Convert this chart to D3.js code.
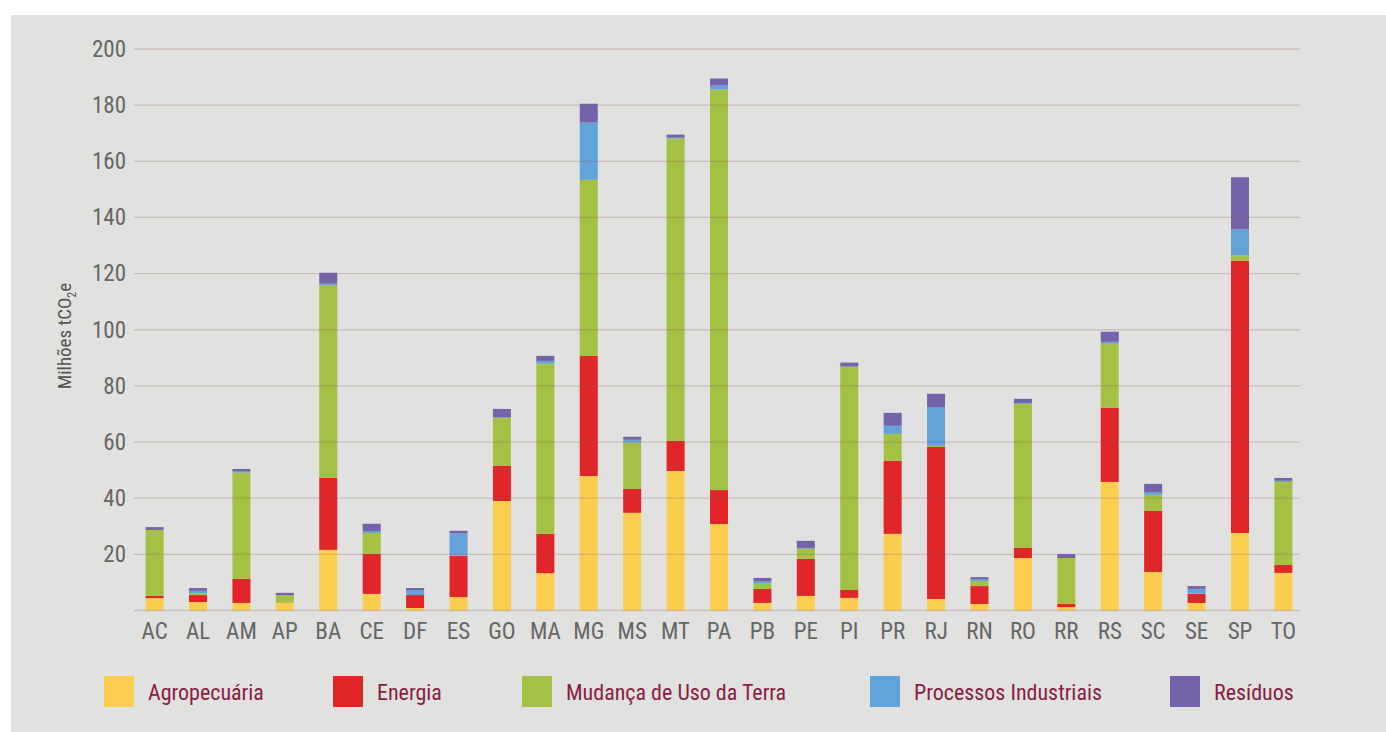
<!DOCTYPE html>
<html>
<head>
<meta charset="utf-8">
<script src="https://cdn.jsdelivr.net/npm/d3@7"></script>
<style>
  html, body { margin: 0; padding: 0; background: #fff; }
  svg { display: block; }
</style>
</head>
<body>
<div id="chart"></div>
<script>
// ---------- Data (milhões tCO2e) ----------
const states = ["AC","AL","AM","AP","BA","CE","DF","ES","GO","MA","MG","MS","MT","PA",
  "PB","PE","PI","PR","RJ","RN","RO","RR","RS","SC","SE","SP","TO"];

const sectors = ["Agropecuária", "Energia", "Mudança de Uso da Terra", "Processos Industriais", "Resíduos"];

const agropecuaria = [4.4, 3.0, 2.7, 2.7, 21.6, 5.9, 0.9, 4.8, 39.0, 13.3, 47.9, 34.8, 49.7, 30.8,
  2.7, 5.2, 4.5, 27.3, 4.1, 2.3, 18.7, 1.2, 45.8, 13.7, 2.7, 27.6, 13.4];
const energia = [0.8, 2.5, 8.6, 0.1, 25.7, 14.3, 4.6, 14.6, 12.5, 14.0, 42.8, 8.5, 10.7, 12.1,
  5.0, 13.2, 2.8, 26.0, 54.2, 6.4, 3.6, 1.1, 26.4, 21.8, 3.2, 97.0, 2.8];
const usoTerra = [23.5, 0.7, 37.8, 2.6, 68.5, 7.4, 0, 0.1, 17.2, 60.6, 62.7, 16.5, 107.7, 142.7,
  2.1, 3.6, 79.5, 9.6, 0.3, 1.8, 51.3, 16.4, 22.8, 5.7, 0.1, 1.9, 29.6];
const processos = [0, 0.8, 0.4, 0, 0.6, 0.7, 1.8, 8.0, 0.1, 1.0, 20.4, 1.0, 0.3, 1.4,
  0.7, 0.3, 0.1, 2.9, 13.9, 0.7, 0.3, 0, 0.7, 1.0, 1.7, 9.3, 0.4];
const residuos = [1.0, 1.0, 0.9, 0.9, 3.9, 2.6, 0.7, 0.9, 3.0, 1.8, 6.7, 1.1, 1.1, 2.5,
  1.1, 2.5, 1.4, 4.6, 4.7, 0.7, 1.5, 1.4, 3.6, 2.9, 1.0, 18.5, 1.0];

const yTicks = [20, 40, 60, 80, 100, 120, 140, 160, 180, 200];
const colors = ["#fdcd4f", "#e02628", "#a4c144", "#62a3d9", "#7462ab"];

// ---------- Build table ----------
const seriesValues = [agropecuaria, energia, usoTerra, processos, residuos];
const table = states.map((s, i) => {
  const row = { state: s };
  sectors.forEach((k, j) => { row[k] = seriesValues[j][i]; });
  return row;
});
const stacked = d3.stack().keys(sectors)(table);

// ---------- Layout ----------
const W = 1386, H = 732;
const font = "'Liberation Sans Narrow', 'Roboto Condensed', 'DejaVu Sans Condensed', sans-serif";

const svg = d3.select("#chart").append("svg")
  .attr("width", W)
  .attr("height", H);

svg.append("rect")
  .attr("x", 11).attr("y", 15)
  .attr("width", W - 11).attr("height", H - 15)
  .attr("fill", "#e1e1df");

const x = d3.scaleBand()
  .domain(states)
  .range([133, 1305])
  .paddingInner(0.585)
  .paddingOuter(0.29);

const y = d3.scaleLinear()
  .domain([0, 200])
  .range([610.5, 49]);

const gridX1 = 134, gridX2 = 1300;

// bars
const layers = svg.append("g")
  .selectAll("g")
  .data(stacked)
  .join("g")
  .attr("fill", (d, i) => colors[i]);

layers.selectAll("rect")
  .data(d => d)
  .join("rect")
  .attr("x", d => x(d.data.state))
  .attr("width", x.bandwidth())
  .attr("y", d => y(d[1]))
  .attr("height", d => Math.max(0, y(d[0]) - y(d[1])));

// y tick labels
const yAxis = svg.append("g")
  .attr("transform", `translate(${gridX1},0)`)
  .call(d3.axisLeft(y)
    .tickValues(yTicks)
    .tickSize(0)
    .tickPadding(8)
    .tickFormat(d3.format("d")));

yAxis.select(".domain").remove();
yAxis.selectAll("text")
  .style("font-family", font)
  .style("font-size", "23px")
  .style("fill", "#666");

// gridlines (on top, translucent, as in the source)
svg.append("g")
  .selectAll("line")
  .data([0].concat(yTicks))
  .join("line")
  .attr("x1", gridX1)
  .attr("x2", gridX2)
  .attr("y1", d => y(d))
  .attr("y2", d => y(d))
  .attr("stroke", "#8a5a5a")
  .attr("stroke-opacity", 0.25)
  .attr("stroke-width", 1.3);

// x axis labels
const xAxis = svg.append("g")
  .attr("transform", `translate(0,${y(0)})`)
  .call(d3.axisBottom(x).tickSize(0).tickPadding(12));

xAxis.select(".domain").remove();
xAxis.selectAll("text")
  .style("font-family", font)
  .style("font-size", "23px")
  .style("fill", "#666");

// y axis title
const yTitle = svg.append("text")
  .attr("transform", "translate(71,336) rotate(-90)")
  .attr("text-anchor", "middle")
  .style("font-family", font)
  .style("font-size", "19px")
  .style("fill", "#555");
yTitle.append("tspan").text("Milhões tCO");
yTitle.append("tspan").attr("dy", 5).style("font-size", "12px").text("2");
yTitle.append("tspan").attr("dy", -5).text("e");

// legend
const legendX = [104, 333, 522, 870, 1170];
const legend = svg.append("g")
  .selectAll("g")
  .data(sectors)
  .join("g")
  .attr("transform", (d, i) => `translate(${legendX[i]},676)`);

legend.append("rect")
  .attr("width", 30)
  .attr("height", 31)
  .attr("fill", (d, i) => colors[i]);

legend.append("text")
  .attr("x", 44)
  .attr("y", 24)
  .style("font-family", font)
  .style("font-size", "22px")
  .style("fill", "#8b1c44")
  .text(d => d);
</script>
</body>
</html>
